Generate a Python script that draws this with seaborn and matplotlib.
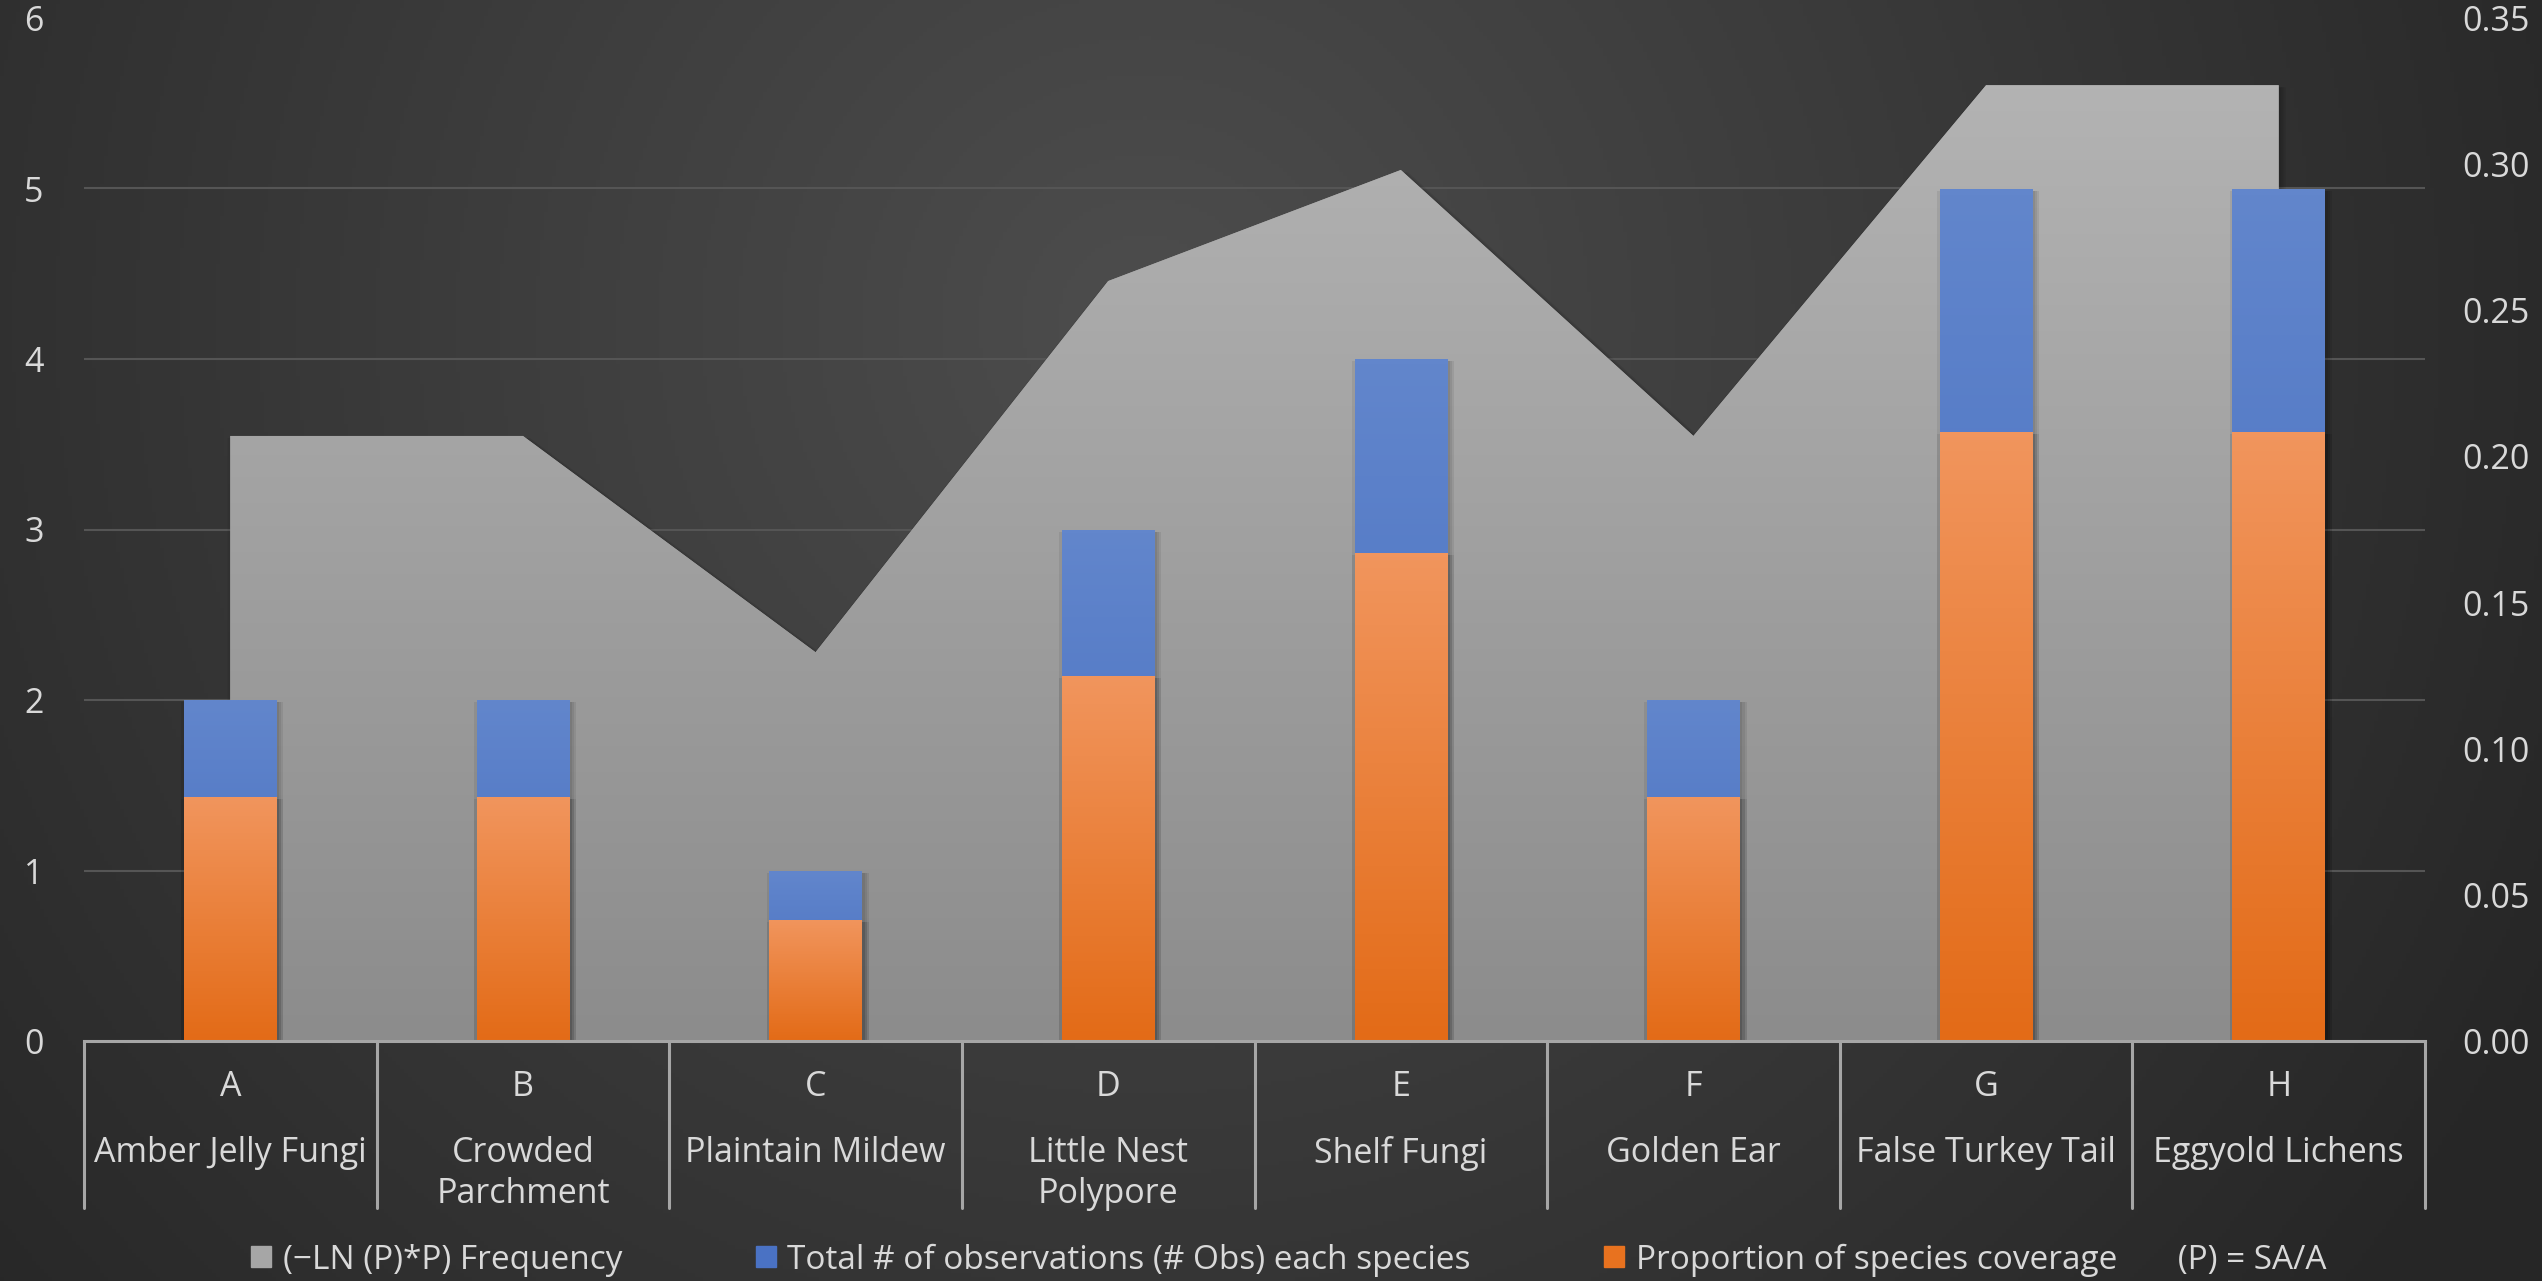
import numpy as np
import matplotlib
matplotlib.use("Agg")
import matplotlib.pyplot as plt
import matplotlib.patheffects as pe
from matplotlib.colors import LinearSegmentedColormap
from matplotlib.patches import Patch
import matplotlib.transforms as mtransforms
import seaborn as sns

# data
letters = ["A", "B", "C", "D", "E", "F", "G", "H"]
names = ["Amber Jelly Fungi", "Crowded\nParchment", "Plaintain Mildew", "Little Nest\nPolypore",
         "Shelf Fungi", "Golden Ear", "False Turkey Tail", "Eggyold Lichens"]
obs_total = [2, 2, 1, 3, 4, 2, 5, 5]
coverage = [1.43, 1.43, 0.71, 2.14, 2.86, 1.43, 3.57, 3.57]
freq = [0.207, 0.207, 0.133, 0.260, 0.298, 0.207, 0.327, 0.327]
left_ticks = [0, 1, 2, 3, 4, 5, 6]
right_ticks = [0.00, 0.05, 0.10, 0.15, 0.20, 0.25, 0.30, 0.35]

sns.set_theme(style="dark")
plt.rcParams["font.family"] = ["Open Sans", "DejaVu Sans"]
txt = "#d9d9d9"
fs = 24.5

fig = plt.figure(figsize=(25.42, 12.81), dpi=100)

# radial background
bg = fig.add_axes([0, 0, 1, 1], zorder=-10)
H, W = 320, 636
yy, xx = np.mgrid[0:H, 0:W]
d = np.sqrt(((xx - 0.45 * W) / W) ** 2 + ((yy - 0.25 * H) / W) ** 2) / 0.62
d = np.clip(d, 0, 1)
bgmap = LinearSegmentedColormap.from_list("bg", ["#4d4d4d", "#262626"])
bg.imshow(d, cmap=bgmap, aspect="auto", extent=[0, 1, 0, 1], origin="upper")
bg.axis("off")

ax = fig.add_axes([84 / 2542, 1 - 1041 / 1281, 2341 / 2542, 1023 / 1281])
ax.patch.set_alpha(0)
ax2 = ax.twinx()
ax2.patch.set_alpha(0)

# soft shadow made of a few faint offset copies
soft = [pe.SimplePatchShadow(offset=(dx, -1.5), shadow_rgbFace="black", alpha=0.07)
        for dx in (-2, 0, 2, 3.5, 5)] + [pe.Normal()]

# area (right axis)
xs = np.arange(len(letters))
poly = ax.fill_between(xs, freq, color="#a0a0a0", lw=0, zorder=2)
poly.set_path_effects(soft)
gmap = LinearSegmentedColormap.from_list("g", ["#8c8c8c", "#b3b3b3"])
im = ax.imshow(np.linspace(0, 1, 256).reshape(-1, 1), cmap=gmap, aspect="auto",
               extent=[0, 7, 0, max(freq)], origin="lower", zorder=2.1)
im.set_clip_path(poly.get_paths()[0], transform=ax.transData)

# bars (left axis)
sns.barplot(x=letters, y=obs_total, ax=ax2, color="#4a72c4", width=0.316, saturation=1)
nblue = len(ax2.patches)
sns.barplot(x=letters, y=coverage, ax=ax2, color="#e8721f", width=0.316, saturation=1)
bmap = LinearSegmentedColormap.from_list("b", ["#3f69be", "#6286cc"])
omap = LinearSegmentedColormap.from_list("o", ["#e36b17", "#f1955d"])
for i, p in enumerate(ax2.patches):
    z = 1 if i < nblue else 1.2
    p.set_zorder(z)
    p.set_linewidth(0)
    p.set_path_effects(soft)
    x0, y0 = p.get_x(), p.get_y()
    w, h = p.get_width(), p.get_height()
    gi = ax2.imshow(np.linspace(0, 1, 128).reshape(-1, 1), cmap=bmap if i < nblue else omap,
                    aspect="auto", extent=[x0, x0 + w, y0, y0 + h], origin="lower", zorder=z + 0.1)
    gi.set_clip_path(p)

ax.set_xlim(-0.5, 7.5)
ax2.set_xlim(-0.5, 7.5)
ax.set_ylim(0, 0.35)
ax2.set_ylim(0, 6)

ax.set_yticks(right_ticks)
ax.set_yticklabels([f"{v:.2f}" for v in right_ticks])
# gridlines follow the left axis, drawn on the bottom axes so they sit behind the area
ax.set_yticks([t / left_ticks[-1] * right_ticks[-1] for t in left_ticks], minor=True)
ax2.set_yticks(left_ticks)
ax.yaxis.tick_right()
ax2.yaxis.tick_left()
ax.tick_params(axis="y", which="both", length=0, pad=27, labelsize=fs, labelcolor=txt)
ax2.tick_params(axis="y", length=0, pad=29, labelsize=fs, labelcolor=txt)
ax.grid(False)
ax.grid(axis="y", which="minor", color="#555555", lw=1.5)
ax2.grid(False)
ax.set_xticks([])
ax2.set_xticks([])
ax2.set_xlabel("")
ax.set_ylabel("")
ax2.set_ylabel("")
for s in ax.spines.values():
    s.set_visible(False)
for k, s in ax2.spines.items():
    s.set_visible(k == "bottom")
ax2.spines["bottom"].set_color("#a6a6a6")
ax2.spines["bottom"].set_linewidth(2.2)
ax2.spines["bottom"].set_zorder(3)

# multi-level category axis
tr = mtransforms.blended_transform_factory(ax2.transData, ax2.transAxes)
for b in np.arange(-0.5, 8, 1.0):
    ax2.plot([b, b], [0, -0.163], transform=tr, color="#a6a6a6", lw=2.2, clip_on=False, zorder=3)
for i, (l, n) in enumerate(zip(letters, names)):
    ax2.text(i, -0.045, l, transform=tr, ha="center", va="center", fontsize=fs, color=txt)
    ax2.text(i, -0.093, n, transform=tr, ha="center", va="top", fontsize=fs, color=txt, linespacing=1.25)

handles = [Patch(color="#a6a6a6"), Patch(color="#4a72c4"), Patch(color="#e8721f")]
labels = ["(\u2212LN (P)*P) Frequency", "Total # of observations (# Obs) each species",
          "Proportion of species coverage       (P) = SA/A"]
fig.legend(handles, labels, loc="center", bbox_to_anchor=(0.507, 1 - 1260 / 1281), ncol=3,
           frameon=False, fontsize=fs - 0.5, labelcolor=txt, handlelength=0.6, handleheight=0.6,
           handletextpad=0.35, columnspacing=4.0)

fig.savefig("out.png", dpi=100)
